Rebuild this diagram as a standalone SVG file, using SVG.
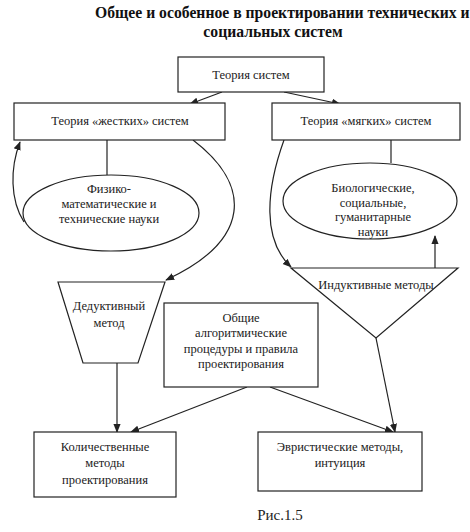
<svg xmlns="http://www.w3.org/2000/svg" width="470" height="532" viewBox="0 0 470 532">
<defs>
<marker id="ah" viewBox="0 0 10 10" refX="9" refY="5" markerWidth="9" markerHeight="9" markerUnits="userSpaceOnUse" orient="auto">
<path d="M0,1 L10,5 L0,9 Z" fill="#222"/>
</marker>
</defs>
<style>
.s{fill:none;stroke:#222;stroke-width:1.2}
.b{fill:#fff;stroke:#222;stroke-width:1.2}
.t{font-family:"Liberation Serif","Times New Roman",serif;font-size:12.5px;fill:#222;text-anchor:middle}
.h{font-family:"Liberation Serif","Times New Roman",serif;font-size:15.7px;font-weight:bold;fill:#111}
</style>
<rect width="470" height="532" fill="#fff"/>
<g id="title">
<text class="h" x="95" y="18">Общее и особенное в проектировании технических и</text>
<text class="h" x="273" y="37" text-anchor="middle">социальных систем</text>
</g>
<g id="connectors">
<path class="s" d="M222,92 L190,104" marker-end="url(#ah)"/>
<path class="s" d="M284,92 L340,104" marker-end="url(#ah)"/>
<path class="s" d="M107,140 L107,175"/>
<path class="s" d="M391,140 L391,163"/>
<path class="s" d="M24,222 C10,200 10,168 20,142" marker-end="url(#ah)"/>
<path class="s" d="M193,140 C252,185 252,240 166,280" marker-end="url(#ah)"/>
<path class="s" d="M284,140 C266,190 262,240 291,267" marker-end="url(#ah)"/>
<path class="s" d="M435,268 L435,236" marker-end="url(#ah)"/>
<path class="s" d="M117,363 L117,432" marker-end="url(#ah)"/>
<path class="s" d="M247,387 L131,432" marker-end="url(#ah)"/>
<path class="s" d="M270,387 L393,432" marker-end="url(#ah)"/>
<path class="s" d="M376,338 L395,432" marker-end="url(#ah)"/>
</g>
<g id="n-theory">
<rect class="b" x="178" y="57" width="146" height="35"/>
<text class="t" x="251" y="79">Теория систем</text>
</g>
<g id="n-hard">
<rect class="b" x="14" y="103" width="211" height="37"/>
<text class="t" x="120" y="125">Теория «жестких» систем</text>
</g>
<g id="n-soft">
<rect class="b" x="272" y="103" width="188" height="37"/>
<text class="t" x="366" y="125">Теория «мягких» систем</text>
</g>
<g id="n-phys">
<ellipse class="b" cx="111" cy="213" rx="88" ry="38"/>
<text class="t" x="109" y="193">Физико-</text>
<text class="t" x="109" y="208">математические и</text>
<text class="t" x="109" y="223">технические науки</text>
</g>
<g id="n-bio">
<ellipse class="b" cx="370" cy="201" rx="87" ry="38"/>
<text class="t" x="373" y="192">Биологические,</text>
<text class="t" x="373" y="207">социальные,</text>
<text class="t" x="373" y="221">гуманитарные</text>
<text class="t" x="373" y="236">науки</text>
</g>
<g id="n-deduct">
<polygon class="b" points="58,282 165,282 138,363 83,363"/>
<text class="t" x="109" y="310">Дедуктивный</text>
<text class="t" x="109" y="327">метод</text>
</g>
<g id="n-induct">
<polygon class="b" points="291,268 458,268 376,338"/>
<text class="t" x="376" y="289">Индуктивные методы</text>
</g>
<g id="n-common">
<rect class="b" x="164" y="303" width="154" height="84"/>
<text class="t" x="241" y="322">Общие</text>
<text class="t" x="241" y="337">алгоритмические</text>
<text class="t" x="241" y="353">процедуры и правила</text>
<text class="t" x="241" y="368">проектирования</text>
</g>
<g id="n-quant">
<rect class="b" x="34" y="432" width="142" height="65"/>
<text class="t" x="105" y="451">Количественные</text>
<text class="t" x="105" y="467">методы</text>
<text class="t" x="105" y="484">проектирования</text>
</g>
<g id="n-heur">
<rect class="b" x="258" y="432" width="164" height="59"/>
<text class="t" x="340" y="451">Эвристические методы,</text>
<text class="t" x="340" y="467">интуиция</text>
</g>
<g id="caption">
<text class="t" x="280" y="520" style="font-size:15px">Рис.1.5</text>
</g>
</svg>
